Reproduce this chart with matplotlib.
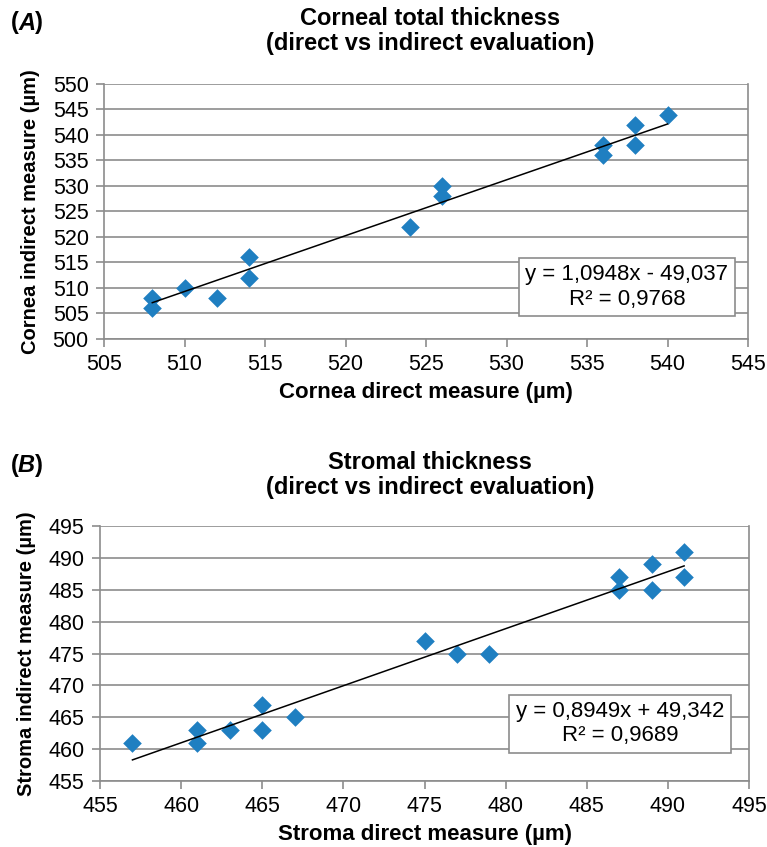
import numpy as np
import matplotlib.pyplot as plt

plt.rcParams['font.family'] = ['Liberation Sans', 'DejaVu Sans']

# Panel A - cornea
cornea_direct = [508, 508, 510, 512, 514, 514, 524, 526, 526, 536, 536, 538, 538, 540]
cornea_indirect = [508, 506, 510, 508, 516, 512, 522, 530, 528, 538, 536, 542, 538, 544]
cornea_fit = (1.0948, -49.037)
cornea_eq = "y = 1,0948x - 49,037\nR² = 0,9768"

# Panel B - stroma
stroma_direct = [457, 461, 461, 463, 465, 465, 467, 475, 477, 479, 487, 487, 489, 489, 491, 491]
stroma_indirect = [461, 463, 461, 463, 467, 463, 465, 477, 475, 475, 487, 485, 489, 485, 491, 487]
stroma_fit = (0.8949, 49.342)
stroma_eq = "y = 0,8949x + 49,342\nR² = 0,9689"

fig = plt.figure(figsize=(7.67, 8.47), dpi=100)
W, H = 767, 847
blue = '#1f7fc1'
grid = '#8c8c8c'


def panel(rect, x, y, fit, eq, xlim, ylim, xlab, ylab, title, title_y, tag, tag_y, eq_xy):
    ax = fig.add_axes([rect[0] / W, 1 - rect[3] / H, (rect[2] - rect[0]) / W, (rect[3] - rect[1]) / H])
    ax.scatter(x, y, marker='D', s=90, color=blue, zorder=3, linewidths=0)
    xs = np.array([min(x), max(x)])
    ax.plot(xs, fit[0] * xs + fit[1], color='black', lw=1.1, zorder=4)
    ax.set_xlim(*xlim)
    ax.set_ylim(*ylim)
    ax.set_xticks(np.arange(xlim[0], xlim[1] + 1, 5))
    ax.set_yticks(np.arange(ylim[0], ylim[1] + 1, 5))
    ax.yaxis.grid(True, color=grid, lw=1.2)
    ax.set_axisbelow(True)
    for s in ['top', 'right', 'left', 'bottom']:
        ax.spines[s].set_color(grid)
        ax.spines[s].set_linewidth(1.2)
    ax.spines['top'].set_visible(False)
    ax.tick_params(colors=grid, length=6, width=1.2, labelsize=15.5, labelcolor='black', pad=5)
    ax.set_xlabel(xlab, fontsize=16, fontweight='bold', labelpad=5)
    ax.set_ylabel(ylab, fontsize=14.5, fontweight='bold', labelpad=9)
    fig.text(430 / W, 1 - title_y / H, title, ha='center', va='center',
             fontsize=17, fontweight='bold', linespacing=1.15)
    fig.text(11 / W, 1 - tag_y / H, '(', fontsize=17, fontweight='bold', va='center')
    fig.text(18 / W, 1 - tag_y / H, tag, fontsize=17, fontweight='bold', style='italic', va='center')
    fig.text(35 / W, 1 - tag_y / H, ')', fontsize=17, fontweight='bold', va='center')
    ax.text(eq_xy[0], eq_xy[1], eq, transform=ax.transAxes, ha='center', va='center', fontsize=16,
            linespacing=1.2,
            bbox=dict(boxstyle='square,pad=0.3', facecolor='white', edgecolor=grid, lw=1.2), zorder=5)
    return ax


panel((104, 84, 748, 339), cornea_direct, cornea_indirect, cornea_fit, cornea_eq,
      (505, 545), (500, 550), 'Cornea direct measure (µm)', 'Cornea indirect measure (µm)',
      'Corneal total thickness\n(direct vs indirect evaluation)', 31, 'A', 23, (0.812, 0.204))
panel((100, 526, 749, 781), stroma_direct, stroma_indirect, stroma_fit, stroma_eq,
      (455, 495), (455, 495), 'Stroma direct measure (µm)', 'Stroma indirect measure (µm)',
      'Stromal thickness\n(direct vs indirect evaluation)', 475, 'B', 465, (0.801, 0.224))

fig.savefig('out.png', dpi=100)
